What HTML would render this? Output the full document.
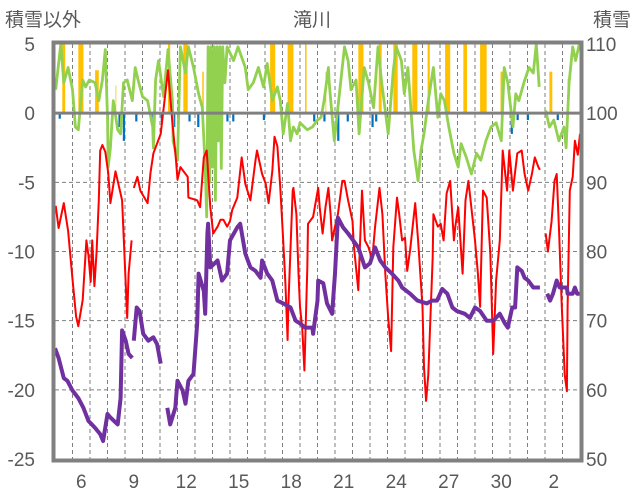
<!DOCTYPE html>
<html><head><meta charset="utf-8"><style>
html,body{margin:0;padding:0;background:#fff;}
svg{display:block;font-family:"Liberation Sans","Noto Sans CJK JP",sans-serif;}
</style></head><body>
<svg id="chart" width="636" height="501" viewBox="0 0 636 501" xmlns="http://www.w3.org/2000/svg">
<defs><clipPath id="pc"><rect x="55" y="44" width="525" height="415"/></clipPath></defs>
<text x="5" y="26" font-size="19" fill="#595959">積雪以外</text>
<text x="312" y="26" font-size="19" fill="#595959" text-anchor="middle">滝川</text>
<text x="631" y="26" font-size="19" fill="#595959" text-anchor="end">積雪</text>
<g id="grid"></g>
<g id="bars" clip-path="url(#pc)"></g>
<g id="lines" clip-path="url(#pc)"></g>
<g id="axes"></g>
</svg>
<script>
const leftTicks=[5,0,-5,-10,-15,-20,-25];
const rightTicks=[110,100,90,80,70,60,50];
const dayLabels=["6","9","12","15","18","21","24","27","30","2"];
const dayLabelHours=[36,108,180,252,324,396,468,540,612,684];
const redHours=[1,5,12,18,24,29,32,38,43,46,49,51,54,57,60,62,65,69,73,76,83,92,99,101,105,null,108,113,117,127,131,135,145,155,161,166,168,172,182,183,195,199,204,208,213,217,223,227,231,236,240,243,250,256,261,268,275,277,284,289,293,298,301,305,309,313,316,319,320,326,327,331,334,336,339,342,346,347,354,358,361,363,367,371,375,378,380,384,388,394,397,402,408,410,416,421,425,430,435,439,445,449,453,457,461,464,469,472,476,480,483,487,494,498,504,506,509,512,518,519,525,529,533,537,542,547,549,553,559,563,567,572,576,580,583,587,592,597,601,605,610,614,620,623,628,634,640,644,649,654,658,663,665,null,673,676,681,685,688,691,695,699,702,703,706,710,713,717,720];
const redValues=[-6.7,-8.3,-6.5,-8.5,-12,-14.7,-15.4,-13.5,-9.2,-10.3,-12.2,-9.2,-12.5,-10,-6.3,-2.7,-2.3,-2.8,-4.3,-6.5,-4.2,-6.3,-14.8,-11.6,-9.2,null,-5.4,-4.6,-5.6,-6.5,-4.3,-2.9,-1.5,3.1,-0.7,-3.4,-4.8,-3.9,-4.6,-6.1,-6.3,-6.8,-3.2,-2.7,-6.8,-8.7,-8.2,-7.7,-7.7,-8.2,-7.8,-7,-6.1,-3.2,-5.1,-6.3,-3.4,-2.7,-4.4,-5.1,-6.5,-4.2,-1.7,-2.4,-5.4,-9.2,-12.3,-16.4,-14,-5.6,-5.4,-7.3,-11.6,-14,-15.5,-18.6,-11.2,-8,-7.5,-6.3,-5.4,-6.8,-8.7,-6.8,-5.4,-7.3,-9.2,-8.2,-7.3,-4.9,-4.9,-6.3,-7.8,-9.7,-12.8,-5.6,-9.2,-9.7,-10.6,-8.2,-5.4,-7.3,-11.6,-14.8,-17.2,-9.7,-6.1,-7.3,-9.2,-9,-11.4,-9.9,-6.5,-9.2,-14,-18.4,-20.8,-18.9,-10.4,-7.3,-8.2,-8,-9.2,-5.8,-4.9,-9.2,-8.2,-6.8,-11.6,-6.3,-4.9,-7.3,-9.2,-11.6,-14,-5.6,-6.1,-10.1,-17.4,-12.1,-9.2,-2.7,-5.6,-2.7,-5.6,-2.9,-2.7,-4.4,-5.6,-4.4,-3.2,-3.9,-4.1,null,-8.7,-10,-7.8,-4.9,-4.4,-8.2,-14,-18.9,-20.1,-14,-5.6,-4.6,-2,-3,-1.5];
const greenHours=[1,8,12,18,24,28,32,38,42,47,55,60,65,69,72,73,76,80,86,90,94,99,106,110,114,120,127,134,135,138,142,149,155,161,162,168,172,179,183,190,197,202,206,208,210,212,214,216,218,220,222,224,226,228,230,233,236,245,251,261,265,272,279,286,291,298,305,309,313,319,323,327,332,336,346,353,360,365,369,375,376,383,390,397,402,406,413,417,424,430,437,443,448,457,464,468,475,479,484,488,492,498,502,506,512,519,525,529,534,540,547,553,557,564,571,578,584,591,598,605,612,616,621,628,632,636,643,650,656,660,664,null,673,678,684,691,698,701,705,710,714,719];
const greenValues=[1.7,5,2.2,3.3,1.7,-1,-1.2,2.4,1.9,2.4,2.2,0.9,2.4,4.6,-0.3,-3.9,-2.5,0.9,-1.2,-1.5,2.2,2.4,0.9,3.3,2.4,1.2,0.9,-1,-2.5,2.4,3.8,1.2,4.6,0.9,-2,-3.4,4.8,2.9,4.8,3.3,1.4,0.4,-3.9,-7.5,4.8,-5,4.8,-3.9,4.8,-6.3,4.8,-2,4.8,-4,4.8,2.2,4.8,3.8,4.8,3.3,1.7,2.2,3.3,1.9,3.6,0.9,1.9,0.9,-1.5,0.7,-2,-1,-1.5,-0.7,-1.2,-1,-0.5,-0.3,0.9,3.3,2.2,-2,1.4,4.8,3.8,1.7,2.4,-1.5,3.3,2.2,0.4,4.8,2.2,-1.5,3.1,4.8,3.8,1.4,3.3,0.4,-2.7,-4.9,-2.7,-1.5,0.9,3.3,-0.3,1.4,0.9,-1,-2.9,-3.9,-2.2,-3.2,-4.4,-2.9,-3.4,-2,-1,-0.7,-2,3.3,2.2,-1,1.4,0.9,2.2,3.3,2.9,5,1.9,null,0.2,-1,-0.5,-2,-1,-2.5,2.2,4.8,3.8,5];
const snowHours=[0,5,12,17,24,32,39,46,55,62,66,72,76,86,90,92,97,101,106,null,108,112,116,121,128,135,140,145,null,154,158,165,168,175,179,183,190,195,197,204,206,209,210,213,223,229,236,240,250,254,261,268,275,282,284,291,298,305,313,323,330,336,343,353,354,360,361,368,373,380,384,388,395,402,409,416,425,432,439,446,453,462,471,476,487,497,510,517,524,531,538,545,551,562,569,576,583,592,601,610,617,621,627,631,634,640,644,649,656,665,null,675,679,683,688,692,702,703,710,713,716,720];
const snowValues=[66,64.6,61.7,61.3,59.9,58.8,57.4,55.5,54.5,53.6,52.6,56.5,56,55,58.8,68.6,67.1,65.2,64.6,null,67.1,71.9,71.4,68.1,67.1,67.6,66.6,63.8,null,57.4,55,57.4,61.3,59.9,58,61.3,62.3,69.6,76.8,74.3,71,82.6,84,77.7,78.7,75.8,76.8,81.6,83.5,84,79.7,77.7,77.2,76.2,78.7,76.8,75.8,72.9,72.5,71.9,70,69.6,69,69,68.1,72.9,75.8,75.4,72.5,71,76.8,84.9,83.5,82.6,81.6,80.6,77.7,78.3,80.6,78.7,77.7,76.8,75.8,74.8,73.9,72.9,72.5,72.9,72.9,74.6,73.9,71.9,71.4,71,70.4,71.9,71.4,70,70,71,69.6,69,71.9,71.9,77.7,77.2,76.2,75.8,74.8,74.8,null,73.9,72.9,73.9,75.8,74.8,74.8,73.9,73.9,74.8,73.9,73.9];
const precipStart=[10,32,55,83,155,176,202,295,319,343,371,416,444,464,490,511,535,560,583,611,678,703];
const precipEnd=[14,39,60,84,158,182,204,302,327,345,372,423,448,470,497,514,542,565,592,614,682,704];
const precipValues=[6,6,3.1,2,6,6,3,6,6,6,3,6,6,6,6,6,6,6,6,3,3,2.5];
const meltHours=[5,71,87,93,110,131,145,162,183,195,208,227,235,243,285,354,368,387,400,434,439,625,633,647,688];
const meltValues=[-0.4,-0.5,-1,-2,-0.6,-0.6,-0.6,-1,-0.6,-1,-2,-0.6,-0.6,-0.6,-0.5,-0.6,-0.6,-2,-0.6,-1,-0.6,-1.5,-0.5,-0.5,-0.5];

const NS="http://www.w3.org/2000/svg";
const PL=55,PR=580,PT=44,PB=459,TOTAL=720,BARH=3;
function X(h){return PL+h*(PR-PL)/TOTAL;}
function YL(v){return PT+(5-v)*(PB-PT)/30;}
function YR(s){return PT+(110-s)*(PB-PT)/60;}
function mk(tag,attrs,parent){const e=document.createElementNS(NS,tag);for(const k in attrs)e.setAttribute(k,attrs[k]);parent.appendChild(e);return e;}
const grid=document.getElementById('grid'),bars=document.getElementById('bars'),lines=document.getElementById('lines'),axes=document.getElementById('axes');

for(let d=1;d<30;d++){
  const l=mk('line',{x1:X(d*24),x2:X(d*24),y1:PT,y2:PB,stroke:'#7f7f7f','stroke-width':1,'stroke-dasharray':'4,3'},grid);
  
  
}
leftTicks.forEach((v,i)=>{
  if(v!==5&&v!==0&&v!==-25){
    const l=mk('line',{x1:PL,x2:PR,y1:YL(v),y2:YL(v),stroke:'#7f7f7f','stroke-width':1,'stroke-dasharray':'4,3'},grid);
    
    
  }
  const t=mk('text',{x:35,y:YL(v)+7,'font-size':19,fill:'#595959','text-anchor':'end'},axes);
  t.textContent=String(v);
  
  
});
rightTicks.forEach(s=>{
  const t=mk('text',{x:586,y:YR(s)+7,'font-size':19,fill:'#595959'},axes);
  t.textContent=String(s);
  
  
});
dayLabels.forEach((lab,i)=>{
  const t=mk('text',{x:X(dayLabelHours[i]),y:488,'font-size':19,fill:'#595959','text-anchor':'middle'},axes);
  t.textContent=lab;
  
  
});
precipStart.forEach((s,i)=>{
  const y=YL(Math.min(precipValues[i],5.2));
  const r=mk('rect',{x:X(s),y:y,width:X(precipEnd[i])-X(s),height:YL(0)-y,fill:'#FFC000'},bars);
  
  
});
meltHours.forEach((h,i)=>{
  const r=mk('rect',{x:X(h),y:YL(0),width:X(h+BARH)-X(h),height:YL(meltValues[i])-YL(0),fill:'#0070C0'},bars);
  
  
});
function pathOf(hs,vs,yf){let d='',pen=false;hs.forEach((h,i)=>{if(h===null||vs[i]===null){pen=false;return;}d+=(pen?'L':'M')+X(h).toFixed(1)+','+yf(vs[i]).toFixed(1);pen=true;});return d;}
const gp=mk('path',{d:pathOf(greenHours,greenValues,YL),fill:'none',stroke:'#92D050','stroke-width':2.8,'stroke-linejoin':'round'},lines);


const rp=mk('path',{d:pathOf(redHours,redValues,YL),fill:'none',stroke:'#FF0000','stroke-width':2,'stroke-linejoin':'round'},lines);


const pp=mk('path',{d:pathOf(snowHours,snowValues,YR),fill:'none',stroke:'#7030A0','stroke-width':4,'stroke-linejoin':'round'},lines);


const zl=mk('line',{x1:PL,x2:PR,y1:YL(0),y2:YL(0),stroke:'#808080','stroke-width':3},axes);


const fr=mk('rect',{x:PL-1.5,y:PT-1.5,width:PR-PL+3,height:PB-PT+3,fill:'none',stroke:'#808080','stroke-width':4},axes);


</script>
</body></html>
